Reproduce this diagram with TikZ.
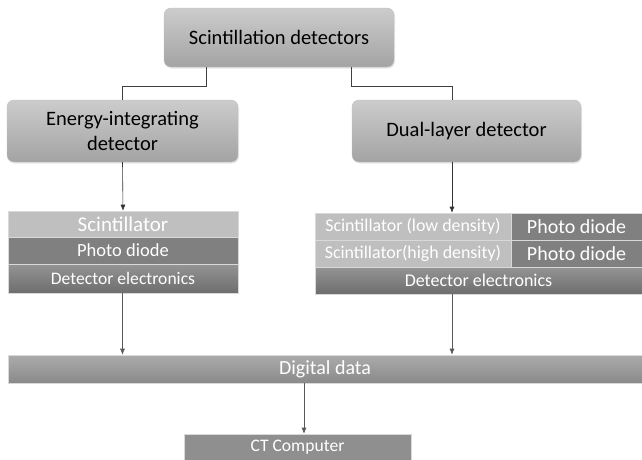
\documentclass[tikz,border=0pt]{standalone}
\usepackage{fontspec}
\setmainfont{Carlito}
\usetikzlibrary{arrows.meta,calc,shadows}
\begin{document}
\begin{tikzpicture}[x=1pt,y=1pt,
  topbox/.style={rounded corners=7pt, top color=black!20, bottom color=black!36, draw=black!25, line width=0.4pt,
     drop shadow={opacity=0.2, shadow xshift=1pt, shadow yshift=-1.5pt},
     inner sep=0pt, align=center, font=\fontsize{20.5}{24.5}\selectfont, text=black},
  layer/.style={inner sep=0pt, draw=black!15, line width=0.6pt, text=white},
  scint/.style={layer, fill=black!25},
  pdiode/.style={layer, fill=black!50},
  elec/.style={layer, top color=black!42, bottom color=black!57},
  link/.style={draw=black!75, line width=0.9pt},
  arr/.style={draw=black!80, line width=0.6pt, -{Latex[length=6pt,width=5pt]}},
]
\useasboundingbox (0,0) rectangle (642,-459);
% top level
\node[topbox, minimum width=230pt, minimum height=59pt] (top) at (279,-37.5) {Scintillation detectors};
\node[topbox, minimum width=231pt, minimum height=62pt] (ei) at (122.5,-131) {Energy-integrating\\detector};
\node[topbox, minimum width=229pt, minimum height=62pt] (dl) at (466.5,-131) {Dual-layer detector};
% left stack
\node[scint, minimum width=230pt, minimum height=26pt, font=\fontsize{21}{22}\selectfont] (lsc) at (123,-224) {Scintillator};
\node[pdiode, minimum width=230pt, minimum height=27pt, font=\fontsize{18.5}{22}\selectfont] (lpd) at (123,-250.5) {Photo diode};
\node[elec, minimum width=230pt, minimum height=29pt, font=\fontsize{17.6}{20}\selectfont] (lde) at (123,-278.5) {Detector electronics};
% right stack
\node[scint, minimum width=196pt, minimum height=27pt, font=\fontsize{17.9}{20}\selectfont] (rsl) at (413,-226.5) {Scintillator (low density)};
\node[pdiode, minimum width=131pt, minimum height=27pt, font=\fontsize{20}{22}\selectfont] (rpd1) at (576.5,-226.5) {Photo diode};
\node[scint, minimum width=196pt, minimum height=27pt, font=\fontsize{17.9}{20}\selectfont] (rsh) at (413,-253.5) {Scintillator(high density)};
\node[pdiode, minimum width=131pt, minimum height=27pt, font=\fontsize{20}{22}\selectfont] (rpd2) at (576.5,-253.5) {Photo diode};
\node[elec, minimum width=327pt, minimum height=27pt, font=\fontsize{18}{20}\selectfont] (rde) at (478.5,-280.5) {Detector electronics};
% bottom
\node[layer, top color=black!33, bottom color=black!46, minimum width=634pt, minimum height=28pt, font=\fontsize{20}{22}\selectfont] (dd) at (325,-369) {Digital data};
\node[layer, fill=black!44, minimum width=227pt, minimum height=26pt, font=\fontsize{17.6}{20}\selectfont] (ct) at (297.5,-447) {CT Computer};
% connector anchors
\coordinate (tl) at ([xshift=-73pt]top.south);
\coordinate (tr) at ([xshift=72pt]top.south);
\coordinate (dlin) at ([xshift=-14.5pt]dl.north);
\coordinate (dlout) at ([xshift=-14.5pt]dl.south);
\coordinate (ctx) at (304,0);
% connectors
\draw[link] (tl) -- ++(0,-19) -| (ei.north);
\draw[link] (tr) -- ++(0,-19) -| (dlin);
\draw[arr] (ei.south) -- (lsc.north);
\draw[arr] (dlout) -- (rsl.north -| dlout);
\draw[arr, draw=black!65] (lde.south -| ei.south) -- (dd.north -| ei.south);
\draw[arr, draw=black!65] (rde.south -| dlout) -- (dd.north -| dlout);
\draw[arr, draw=black!65] (dd.south -| ctx) -- (ct.north -| ctx);
\end{tikzpicture}
\end{document}
